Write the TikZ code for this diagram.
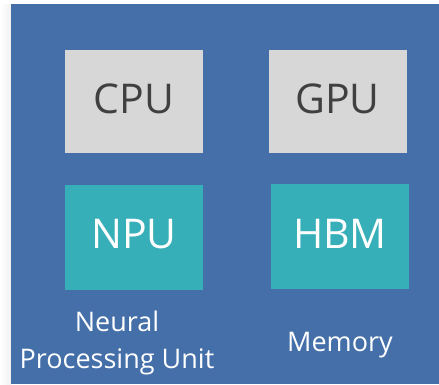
\documentclass[tikz,border=0pt]{standalone}
\usepackage{fontspec}
\setmainfont{Open Sans}
\usepackage{xcolor}
\usepackage{tikz}
\definecolor{panel}{HTML}{446FA9}
\definecolor{chip}{HTML}{D7D7D7}
\definecolor{accel}{HTML}{37AFB8}
\definecolor{ink}{HTML}{404040}
\definecolor{strip}{HTML}{F1F1F1}
\tikzset{
  unit/.style={fill=chip, text=ink, minimum width=138pt, minimum height=103pt, inner sep=0pt, text height=29pt, text depth=6pt, font=\fontsize{41}{46}\selectfont},
  accunit/.style={fill=accel, text=white, minimum width=138pt, minimum height=105pt, inner sep=0pt, text height=29pt, text depth=6pt, font=\fontsize{41}{46}\selectfont},
  caption/.style={text=white, align=center, inner sep=0pt, font=\fontsize{27}{37}\selectfont},
}

\begin{document}
\begin{tikzpicture}[x=1pt,y=-1pt]
  \useasboundingbox (0,0) rectangle (439,384);
  \fill[white] (0,0) rectangle (439,384);
  \shade[left color=white, right color=strip] (0,4) rectangle (11,384);
  \fill[panel] (11,4) rectangle (439,384);

  % processors
  \node[unit] (cpu) at (134,101.5) {CPU};
  \node[unit] (gpu) at (337.5,101.5) {GPU};

  % accelerator and memory
  \node[accunit] (npu) at (134,237) {NPU};
  \node[accunit] (hbm) at (340,236.5) {HBM};

  \node[caption] (npucap) at (117,343) {Neural\\Processing Unit};
  \node[caption] (hbmcap) at (340,345) {Memory};
\end{tikzpicture}
\end{document}
